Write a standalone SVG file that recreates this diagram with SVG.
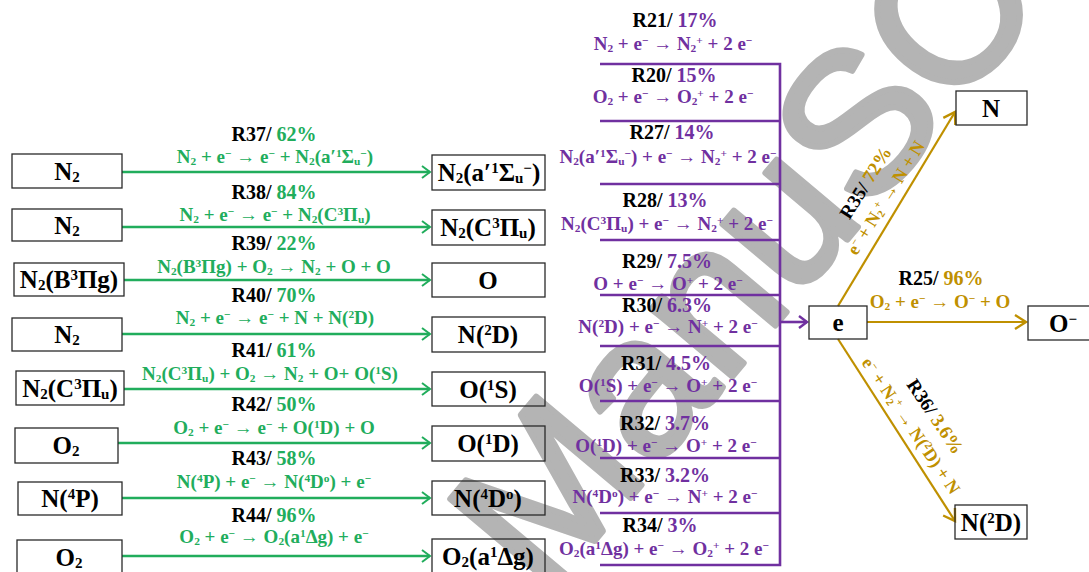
<svg xmlns="http://www.w3.org/2000/svg" width="1089" height="572" viewBox="0 0 1089 572">
<style>
text{font-family:"Liberation Serif","Times New Roman",serif;font-weight:bold}
.bx{font-size:25px;fill:#000;text-anchor:middle}
.lb{font-size:20px;fill:#000;text-anchor:middle}
.eq{font-size:19px;text-anchor:middle}
.rl{font-size:19px;fill:#000;text-anchor:middle}
.re{font-size:18px;text-anchor:middle}
.g{fill:#21ad5c}
.p{fill:#7030a0}
.y{fill:#bf9000}
.s{font-size:0.6em;baseline-shift:-0.15em}
.u{font-size:0.6em;baseline-shift:0.55em}
rect{fill:none;stroke:#2a2a2a;stroke-width:1.3}
.wm{font-family:"Liberation Sans",Arial,sans-serif;font-weight:normal;font-size:200px;fill:#b4b4b4;stroke:#b4b4b4;stroke-width:6;stroke-linejoin:round}
.lg{stroke:#21ad5c;stroke-width:2.6;fill:none}
.lp{stroke:#7030a0;stroke-width:2.6;fill:none}
.ly{stroke:#bf9000;stroke-width:2.2;fill:none}
</style>
<defs>
<marker id="ag" markerUnits="userSpaceOnUse" markerWidth="14" markerHeight="14" refX="11" refY="7" orient="auto"><path d="M3,1 L11,7 L3,13" fill="none" stroke="#21ad5c" stroke-width="2"/></marker>
<marker id="ap" markerUnits="userSpaceOnUse" markerWidth="14" markerHeight="14" refX="11" refY="7" orient="auto"><path d="M3,1 L11,7 L3,13" fill="none" stroke="#7030a0" stroke-width="2.4"/></marker>
<marker id="ay" markerUnits="userSpaceOnUse" markerWidth="18" markerHeight="18" refX="14" refY="9" orient="auto"><path d="M3,2 L14,9 L3,16" fill="none" stroke="#bf9000" stroke-width="2.4"/></marker>
</defs>
<rect x="0" y="0" width="1089" height="572" style="fill:#fff;stroke:none"/>
<text class="wm" transform="translate(545,600) rotate(-50)">ManuSCript</text>

<g id="connectors">
<line class="lg" x1="122" y1="172" x2="430" y2="172" marker-end="url(#ag)"/>
<line class="lg" x1="122" y1="227" x2="430" y2="227" marker-end="url(#ag)"/>
<line class="lg" x1="124" y1="280" x2="430" y2="280" marker-end="url(#ag)"/>
<line class="lg" x1="122" y1="334" x2="430" y2="334" marker-end="url(#ag)"/>
<line class="lg" x1="124" y1="389" x2="430" y2="389" marker-end="url(#ag)"/>
<line class="lg" x1="118" y1="443" x2="430" y2="443" marker-end="url(#ag)"/>
<line class="lg" x1="122" y1="498" x2="430" y2="498" marker-end="url(#ag)"/>
<line class="lg" x1="122" y1="556" x2="430" y2="556" marker-end="url(#ag)"/>
<path class="lp" d="M600,64 H780 V565 H600 M600,121 H780 M600,184 H780 M600,240 H780 M600,295 H780 M600,346 H780 M600,401 H780 M600,458 H780 M600,513 H780"/>
<line class="lp" x1="780" y1="322" x2="807" y2="322" marker-end="url(#ap)"/>
<line class="ly" x1="838" y1="306" x2="955" y2="112" marker-end="url(#ay)"/>
<line class="ly" x1="867" y1="322" x2="1026" y2="322" marker-end="url(#ay)"/>
<line class="ly" x1="838" y1="339" x2="955" y2="521" marker-end="url(#ay)"/>
</g>

<g id="green-labels">
<text class="lb" x="274" y="141">R37/ <tspan class="g">62%</tspan></text>
<text class="eq g" x="275" y="163">N<tspan class="s">2</tspan> + e<tspan class="u">−</tspan> → e<tspan class="u">−</tspan> + N<tspan class="s">2</tspan>(a′<tspan class="u">1</tspan>Σ<tspan class="s">u</tspan><tspan class="u">−</tspan>)</text>
<text class="lb" x="274" y="199">R38/ <tspan class="g">84%</tspan></text>
<text class="eq g" x="275" y="221">N<tspan class="s">2</tspan> + e<tspan class="u">−</tspan> → e<tspan class="u">−</tspan> + N<tspan class="s">2</tspan>(C<tspan class="u">3</tspan>Π<tspan class="s">u</tspan>)</text>
<text class="lb" x="274" y="250">R39/ <tspan class="g">22%</tspan></text>
<text class="eq g" x="274" y="273">N<tspan class="s">2</tspan>(B<tspan class="u">3</tspan>Πg) + O<tspan class="s">2</tspan> → N<tspan class="s">2</tspan> + O + O</text>
<text class="lb" x="274" y="302">R40/ <tspan class="g">70%</tspan></text>
<text class="eq g" x="275" y="324">N<tspan class="s">2</tspan> + e<tspan class="u">−</tspan> → e<tspan class="u">−</tspan> + N + N(<tspan class="u">2</tspan>D)</text>
<text class="lb" x="274" y="357">R41/ <tspan class="g">61%</tspan></text>
<text class="eq g" x="270" y="380">N<tspan class="s">2</tspan>(C<tspan class="u">3</tspan>Π<tspan class="s">u</tspan>) + O<tspan class="s">2</tspan> → N<tspan class="s">2</tspan> + O+ O(<tspan class="u">1</tspan>S)</text>
<text class="lb" x="274" y="411">R42/ <tspan class="g">50%</tspan></text>
<text class="eq g" x="274" y="434">O<tspan class="s">2</tspan> + e<tspan class="u">−</tspan> → e<tspan class="u">−</tspan> + O(<tspan class="u">1</tspan>D) + O</text>
<text class="lb" x="274" y="465">R43/ <tspan class="g">58%</tspan></text>
<text class="eq g" x="274" y="488">N(<tspan class="u">4</tspan>P) + e<tspan class="u">−</tspan> → N(<tspan class="u">4</tspan>D<tspan class="u">o</tspan>) + e<tspan class="u">−</tspan></text>
<text class="lb" x="274" y="522">R44/ <tspan class="g">96%</tspan></text>
<text class="eq g" x="274" y="543">O<tspan class="s">2</tspan> + e<tspan class="u">−</tspan> → O<tspan class="s">2</tspan>(a<tspan class="u">1</tspan>Δg) + e<tspan class="u">−</tspan></text>
</g>

<g id="purple-labels">
<text class="lb" x="675" y="27">R21/ <tspan class="p">17%</tspan></text>
<text class="eq p" x="673" y="50">N<tspan class="s">2</tspan> + e<tspan class="u">−</tspan> → N<tspan class="s">2</tspan><tspan class="u">+</tspan> + 2 e<tspan class="u">−</tspan></text>
<text class="lb" x="674" y="82">R20/ <tspan class="p">15%</tspan></text>
<text class="eq p" x="673" y="103">O<tspan class="s">2</tspan> + e<tspan class="u">−</tspan> → O<tspan class="s">2</tspan><tspan class="u">+</tspan> + 2 e<tspan class="u">−</tspan></text>
<text class="lb" x="672" y="139">R27/ <tspan class="p">14%</tspan></text>
<text class="eq p" x="668" y="163">N<tspan class="s">2</tspan>(a′<tspan class="u">1</tspan>Σ<tspan class="s">u</tspan><tspan class="u">−</tspan>) + e<tspan class="u">−</tspan> → N<tspan class="s">2</tspan><tspan class="u">+</tspan> + 2 e<tspan class="u">−</tspan></text>
<text class="lb" x="665" y="207">R28/ <tspan class="p">13%</tspan></text>
<text class="eq p" x="667" y="230">N<tspan class="s">2</tspan>(C<tspan class="u">3</tspan>Π<tspan class="s">u</tspan>) + e<tspan class="u">−</tspan> → N<tspan class="s">2</tspan><tspan class="u">+</tspan> + 2 e<tspan class="u">−</tspan></text>
<text class="lb" x="667" y="268">R29/ <tspan class="p">7.5%</tspan></text>
<text class="eq p" x="668" y="290">O + e<tspan class="u">−</tspan> → O<tspan class="u">+</tspan> + 2 e<tspan class="u">−</tspan></text>
<text class="lb" x="667" y="312">R30/ <tspan class="p">6.3%</tspan></text>
<text class="eq p" x="668" y="333">N(<tspan class="u">2</tspan>D) + e<tspan class="u">−</tspan> → N<tspan class="u">+</tspan> + 2 e<tspan class="u">−</tspan></text>
<text class="lb" x="666" y="370">R31/ <tspan class="p">4.5%</tspan></text>
<text class="eq p" x="668" y="392">O(<tspan class="u">1</tspan>S) + e<tspan class="u">−</tspan> → O<tspan class="u">+</tspan> + 2 e<tspan class="u">−</tspan></text>
<text class="lb" x="665" y="430">R32/ <tspan class="p">3.7%</tspan></text>
<text class="eq p" x="666" y="452">O(<tspan class="u">1</tspan>D) + e<tspan class="u">−</tspan> → O<tspan class="u">+</tspan> + 2 e<tspan class="u">−</tspan></text>
<text class="lb" x="665" y="482">R33/ <tspan class="p">3.2%</tspan></text>
<text class="eq p" x="665" y="503">N(<tspan class="u">4</tspan>D<tspan class="u">o</tspan>) + e<tspan class="u">−</tspan> → N<tspan class="u">+</tspan> + 2 e<tspan class="u">−</tspan></text>
<text class="lb" x="660" y="532">R34/ <tspan class="p">3%</tspan></text>
<text class="eq p" x="664" y="555">O<tspan class="s">2</tspan>(a<tspan class="u">1</tspan>Δg) + e<tspan class="u">−</tspan> → O<tspan class="s">2</tspan><tspan class="u">+</tspan> + 2 e<tspan class="u">−</tspan></text>
</g>

<g id="gold-labels">
<text class="lb" x="941" y="285">R25/ <tspan class="y">96%</tspan></text>
<text class="eq y" x="940" y="308">O<tspan class="s">2</tspan> + e<tspan class="u">−</tspan> → O<tspan class="u">−</tspan> + O</text>
<text class="rl" transform="translate(871,186) rotate(-58)">R35/ <tspan class="y">72%</tspan></text>
<text class="re y" transform="translate(891,201) rotate(-58)">e<tspan class="u">−</tspan> + N<tspan class="s">2</tspan><tspan class="u">+</tspan> → N + N</text>
<text class="rl" transform="translate(930,420) rotate(56)">R36/ <tspan class="y">3.6%</tspan></text>
<text class="re y" transform="translate(906,429) rotate(56)">e<tspan class="u">−</tspan> + N<tspan class="s">2</tspan><tspan class="u">+</tspan> → N(<tspan class="u">2</tspan>D) + N</text>
</g>

<g id="n-left1"><rect x="12" y="154" width="110" height="34"/><text class="bx" x="67" y="180">N<tspan class="s">2</tspan></text></g>
<g id="n-left2"><rect x="12" y="209" width="110" height="32"/><text class="bx" x="67" y="234">N<tspan class="s">2</tspan></text></g>
<g id="n-left3"><rect x="14" y="263" width="110" height="33"/><text class="bx" x="69" y="288">N<tspan class="s">2</tspan>(B<tspan class="u">3</tspan>Πg)</text></g>
<g id="n-left4"><rect x="12" y="318" width="110" height="33"/><text class="bx" x="67" y="343">N<tspan class="s">2</tspan></text></g>
<g id="n-left5"><rect x="16" y="371" width="108" height="34"/><text class="bx" x="70" y="397">N<tspan class="s">2</tspan>(C<tspan class="u">3</tspan>Π<tspan class="s">u</tspan>)</text></g>
<g id="n-left6"><rect x="15" y="428" width="103" height="35"/><text class="bx" x="66" y="454">O<tspan class="s">2</tspan></text></g>
<g id="n-left7"><rect x="18" y="482" width="104" height="33"/><text class="bx" x="70" y="507">N(<tspan class="u">4</tspan>P)</text></g>
<g id="n-left8"><rect x="17" y="540" width="105" height="34"/><text class="bx" x="69" y="566">O<tspan class="s">2</tspan></text></g>

<g id="n-mid1"><rect x="432" y="155" width="113" height="35"/><text class="bx" x="489" y="181">N<tspan class="s">2</tspan>(a′<tspan class="u">1</tspan>Σ<tspan class="s">u</tspan><tspan class="u">−</tspan>)</text></g>
<g id="n-mid2"><rect x="432" y="210" width="113" height="35"/><text class="bx" x="488" y="236">N<tspan class="s">2</tspan>(C<tspan class="u">3</tspan>Π<tspan class="s">u</tspan>)</text></g>
<g id="n-mid3"><rect x="432" y="263" width="113" height="34"/><text class="bx" x="488" y="289">O</text></g>
<g id="n-mid4"><rect x="432" y="317" width="113" height="35"/><text class="bx" x="488" y="343">N(<tspan class="u">2</tspan>D)</text></g>
<g id="n-mid5"><rect x="432" y="372" width="113" height="34"/><text class="bx" x="488" y="398">O(<tspan class="u">1</tspan>S)</text></g>
<g id="n-mid6"><rect x="432" y="426" width="113" height="35"/><text class="bx" x="488" y="452">O(<tspan class="u">1</tspan>D)</text></g>
<g id="n-mid7"><rect x="432" y="481" width="113" height="34"/><text class="bx" x="488" y="507">N(<tspan class="u">4</tspan>D<tspan class="u">o</tspan>)</text></g>
<g id="n-mid8"><rect x="432" y="539" width="113" height="35"/><text class="bx" x="488" y="565">O<tspan class="s">2</tspan>(a<tspan class="u">1</tspan>Δg)</text></g>

<g id="n-e"><rect x="809" y="306" width="58" height="33"/><text class="bx" x="838" y="331">e</text></g>
<g id="n-N"><rect x="956" y="91" width="71" height="34"/><text class="bx" x="991" y="117">N</text></g>
<g id="n-Ominus"><rect x="1028" y="306" width="70" height="34"/><text class="bx" x="1063" y="332">O<tspan class="u">−</tspan></text></g>
<g id="n-N2D"><rect x="955" y="505" width="72" height="34"/><text class="bx" x="991" y="531">N(<tspan class="u">2</tspan>D)</text></g>
</svg>
